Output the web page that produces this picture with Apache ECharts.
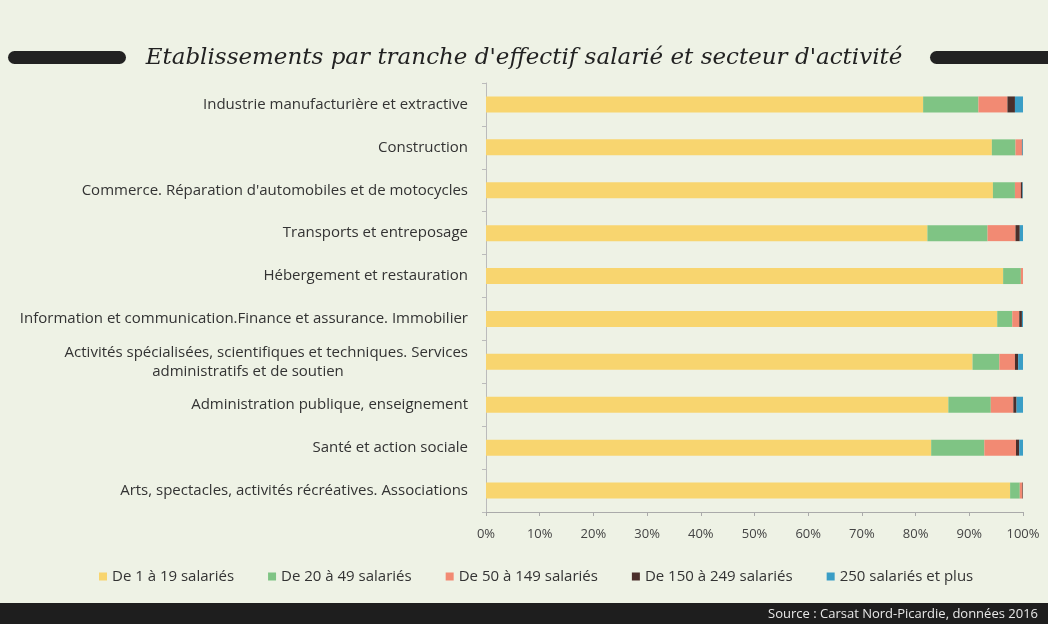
<!DOCTYPE html>
<html><head><meta charset="utf-8">
<script src="https://cdn.jsdelivr.net/npm/echarts@6/dist/echarts.min.js"></script>
<style>html,body{margin:0;padding:0;background:#eef2e5;}#c{width:1048px;height:624px;}</style>
</head><body><div id="c"></div>
<script>
const categories = [
  "Industrie manufacturière et extractive",
  "Construction",
  "Commerce. Réparation d'automobiles et de motocycles",
  "Transports et entreposage",
  "Hébergement et restauration",
  "Information et communication.Finance et assurance. Immobilier",
  "Activités spécialisées, scientifiques et techniques. Services\nadministratifs et de soutien",
  "Administration publique, enseignement",
  "Santé et action sociale",
  "Arts, spectacles, activités récréatives. Associations"
];
const seriesNames = ["De 1 à 19 salariés","De 20 à 49 salariés","De 50 à 149 salariés","De 150 à 249 salariés","250 salariés et plus"];
const s1 = [81.4, 94.2, 94.4, 82.2, 96.3, 95.2, 90.6, 86.1, 82.9, 97.6];
const s2 = [10.3, 4.4, 4.1, 11.2, 3.3, 2.8, 5.0, 7.9, 9.9, 1.8];
const s3 = [5.4, 1.2, 1.1, 5.2, 0.4, 1.3, 2.9, 4.2, 5.9, 0.5];
const s4 = [1.4, 0.1, 0.3, 0.8, 0.0, 0.5, 0.6, 0.6, 0.6, 0.1];
const s5 = [1.5, 0.1, 0.1, 0.6, 0.0, 0.2, 0.9, 1.2, 0.7, 0.0];
const tickLabels = ["0%","10%","20%","30%","40%","50%","60%","70%","80%","90%","100%"];
const colors = ["#f8d56f","#7fc484","#f28a73","#4b2f2b","#3a9ec6"];
const title = "Etablissements par tranche d'effectif salarié et secteur d'activité";
const source = "Source : Carsat Nord-Picardie, données 2016";

const allData = [s1,s2,s3,s4,s5];
const FONT = "Open Sans";
const chart = echarts.init(document.getElementById('c'));
chart.setOption({
  backgroundColor: '#eef2e5',
  animation: false,
  textStyle: {fontFamily: FONT},
  title: {
    text: title, left: 'center', top: 42,
    textStyle: {fontFamily: 'DejaVu Serif', fontStyle: 'italic', fontSize: 23, fontWeight: 'normal', color: '#222'}
  },
  graphic: [
    {type: 'rect', shape: {x: 8, y: 51, width: 118, height: 13, r: 6.5}, style: {fill: '#222'}},
    {type: 'rect', shape: {x: 930, y: 51, width: 130, height: 13, r: 6.5}, style: {fill: '#222'}},
    {type: 'rect', shape: {x: 0, y: 603, width: 1048, height: 21}, style: {fill: '#1e1e1e'}},
    {type: 'text', style: {text: source, x: 1038, y: 614, textAlign: 'right', textVerticalAlign: 'middle', fill: '#e8e8e8', font: '13px "Open Sans"'}}
  ],
  legend: {
    data: seriesNames, left: 94, top: 564, itemWidth: 8, itemHeight: 8, itemGap: 34,
    icon: 'rect',
    textStyle: {fontFamily: FONT, fontSize: 15, color: '#333'}
  },
  grid: {left: 486, right: 25, top: 83, height: 429, containLabel: false},
  xAxis: {
    type: 'value', min: 0, max: 100, interval: 10,
    axisLine: {show: true, lineStyle: {color: '#aaa'}},
    axisTick: {show: true, length: 4, lineStyle: {color: '#aaa'}},
    splitLine: {show: false},
    axisLabel: {color: '#444', fontSize: 13, margin: 16, formatter: v => tickLabels[Math.round(v/10)]}
  },
  yAxis: {
    type: 'category', data: categories, inverse: true,
    axisLine: {show: true, lineStyle: {color: '#bbb'}},
    axisTick: {show: true, length: 4, lineStyle: {color: '#bbb'}},
    axisLabel: {
      color: '#333', fontSize: 15, margin: 18,
      formatter: v => {
        if (v.indexOf('\n') >= 0) {
          const p = v.split('\n');
          return '{a|' + p[0] + '}\n{b|' + p[1] + '}';
        }
        return v;
      },
      rich: {
        a: {fontSize: 15, color: '#333', fontFamily: FONT, lineHeight: 19},
        b: {fontSize: 15, color: '#333', fontFamily: FONT, lineHeight: 19, width: 440, align: 'center'}
      }
    }
  },
  series: seriesNames.map((n, i) => ({
    name: n, type: 'bar', stack: 'total', barWidth: 16,
    itemStyle: {color: colors[i]},
    data: allData[i]
  }))
});
</script></body></html>
